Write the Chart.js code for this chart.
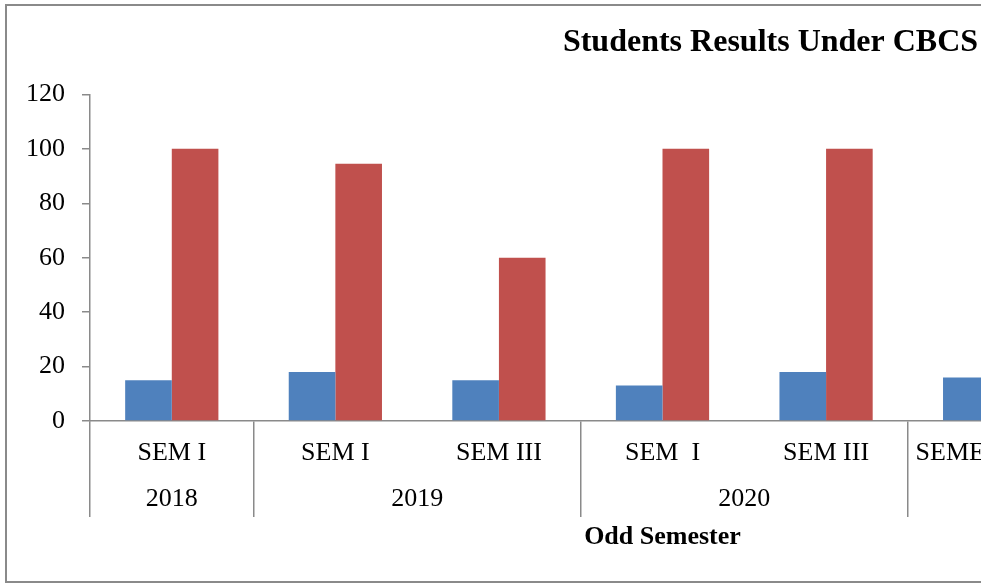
<!DOCTYPE html>
<html>
<head>
<meta charset="utf-8">
<title>Students Results Under CBCS</title>
<script src="https://cdn.jsdelivr.net/npm/chart.js@4/dist/chart.umd.min.js"></script>
<style>
    html, body { margin: 0; padding: 0; background: #fff; overflow: hidden; }
    #wrap {
        position: absolute;
        left: 5px;
        top: 4px;
        width: 1527px;
        height: 575px;
        border: 2px solid #8a8a8a;
    }
</style>
</head>
<body>
<div id="wrap"><canvas id="resultsChart"></canvas></div>
<script>
// semesters (first axis level) and the year groups under them
const semesterLabels = ['SEM I', 'SEM I', 'SEM III', 'SEM  I', 'SEM III', 'SEMESTER I', 'SEMESTER III'];
const yearLabels = ['2018', '2019', '2020', '2021'];
const yearSpans = [1, 2, 2, 2];

const appearedValues = [15, 18, 15, 13, 18, 16, null];
const passValues = [100, 94.5, 60, 100, 100, null, null];

const yMax = 120;
const yStep = 20;

const axisGrey = '#8a8a8a';
const serif = "'Liberation Serif', 'Times New Roman', serif";

// group boundaries (in categories) and a half-step label list for the year row:
// slot k sits at k / (2 * n) of the axis, so category c centre is slot 2c+1
const groupStarts = [];
const yearSlots = new Array(semesterLabels.length * 2 + 1).fill('');
let pos = 0;
yearSpans.forEach((span, i) => {
    groupStarts.push(pos);
    yearSlots[2 * pos + span] = yearLabels[i];
    pos += span;
});

const ctx = document.getElementById('resultsChart').getContext('2d');

new Chart(ctx, {
    type: 'bar',
    data: {
        labels: semesterLabels,
        datasets: [
            {
                label: 'Students Appeared',
                data: appearedValues,
                backgroundColor: '#4F81BD',
                barPercentage: 1,
                categoryPercentage: 0.57
            },
            {
                label: 'Pass Percentage',
                data: passValues,
                backgroundColor: '#C0504D',
                barPercentage: 1,
                categoryPercentage: 0.57
            }
        ]
    },
    options: {
        responsive: true,
        maintainAspectRatio: false,
        animation: false,
        layout: { padding: { left: 0, right: 0, top: 0, bottom: 28 } },
        plugins: {
            legend: { display: false },
            tooltip: { enabled: false },
            title: {
                display: true,
                text: 'Students Results Under CBCS',
                color: '#000',
                font: { family: serif, size: 32, weight: 'bold', lineHeight: 1.2 },
                padding: { top: 18, bottom: 32 }
            }
        },
        scales: {
            x: {
                type: 'category',
                position: 'bottom',
                offset: true,
                weight: 0,
                grid: {
                    display: true,
                    offset: true,
                    drawOnChartArea: false,
                    drawTicks: true,
                    tickLength: 96,
                    lineWidth: 1.5,
                    // only the year-group boundaries get a line
                    color: (c) => (c.index === undefined || groupStarts.includes(c.index)) ? axisGrey : 'rgba(0,0,0,0)'
                },
                border: { display: true, color: axisGrey, width: 1.5 },
                ticks: {
                    color: '#000',
                    font: { family: serif, size: 26 },
                    padding: -79,
                    maxRotation: 0,
                    autoSkip: false
                },
                afterFit: (scale) => { scale.height = 60; }
            },
            x2: {
                type: 'category',
                position: 'bottom',
                weight: 1,
                labels: yearSlots,
                offset: false,
                grid: { display: false, drawTicks: false, offset: false },
                border: { display: false },
                ticks: {
                    color: '#000',
                    font: { family: serif, size: 26 },
                    padding: 3,
                    maxRotation: 0,
                    autoSkip: false
                },
                title: {
                    display: true,
                    text: 'Odd Semester',
                    color: '#000',
                    font: { family: serif, size: 26, weight: 'bold', lineHeight: 1.2 },
                    padding: { top: 0, bottom: 0 }
                },
                afterFit: (scale) => { scale.height = 72; }
            },
            y: {
                min: 0,
                max: yMax,
                grid: {
                    display: true,
                    drawOnChartArea: false,
                    tickLength: 8,
                    lineWidth: 1.5,
                    color: axisGrey
                },
                border: { display: true, color: axisGrey, width: 1.5 },
                ticks: {
                    stepSize: yStep,
                    color: '#000',
                    font: { family: serif, size: 26 },
                    padding: 17
                },
                afterFit: (scale) => { scale.width = 83; }
            },
            // space on the right where the original legend sat (off-screen)
            yRight: {
                type: 'linear',
                axis: 'y',
                position: 'right',
                grid: { display: false },
                border: { display: false },
                ticks: { display: false },
                afterFit: (scale) => { scale.width = 299; }
            }
        }
    }
});
</script>
</body>
</html>
